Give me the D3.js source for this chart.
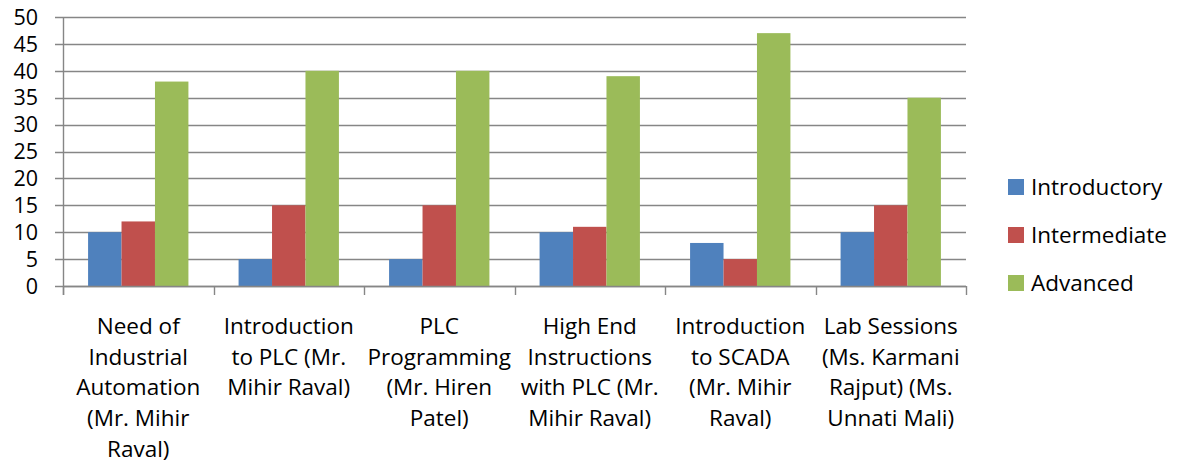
<!DOCTYPE html>
<html>
<head>
<meta charset="utf-8">
<script src="https://cdn.jsdelivr.net/npm/d3@7"></script>
<style>
  body { margin: 0; background: #fff; }
  text { font-family: "Open Sans", sans-serif; fill: #000; }
</style>
</head>
<body>
<svg id="chart" width="1179" height="465"></svg>
<script>
const categories = [
  "Need of Industrial Automation (Mr. Mihir Raval)",
  "Introduction to PLC (Mr. Mihir Raval)",
  "PLC Programming (Mr. Hiren Patel)",
  "High End Instructions with PLC (Mr. Mihir Raval)",
  "Introduction to SCADA (Mr. Mihir Raval)",
  "Lab Sessions (Ms. Karmani Rajput) (Ms. Unnati Mali)"
];
// wrapped the way the original shows them
const categoryLines = [
  ["Need of", "Industrial", "Automation", "(Mr. Mihir", "Raval)"],
  ["Introduction", "to PLC (Mr.", "Mihir Raval)"],
  ["PLC", "Programming", "(Mr. Hiren", "Patel)"],
  ["High End", "Instructions", "with PLC (Mr.", "Mihir Raval)"],
  ["Introduction", "to SCADA", "(Mr. Mihir", "Raval)"],
  ["Lab Sessions", "(Ms. Karmani", "Rajput) (Ms.", "Unnati Mali)"]
];
const seriesNames = ["Introductory", "Intermediate", "Advanced"];
const introductory = [10, 5, 5, 10, 8, 10];
const intermediate = [12, 15, 15, 11, 5, 15];
const advanced = [38, 40, 40, 39, 47, 35];
const yTicks = [0, 5, 10, 15, 20, 25, 30, 35, 40, 45, 50];
const colors = ["#4F81BD", "#C0504D", "#9BBB59"];

const series = [introductory, intermediate, advanced];

const svg = d3.select("#chart");
const plotLeft = 63, plotRight = 966, plotTop = 17, plotBottom = 286;

const x0 = d3.scaleBand().domain(d3.range(categories.length)).range([plotLeft, plotRight]).paddingInner(1 / 3).paddingOuter(1 / 6);
const x1 = d3.scaleBand().domain(d3.range(series.length)).range([0, x0.bandwidth()]);
const y = d3.scaleLinear().domain([0, 50]).range([plotBottom, plotTop]);

// gridlines
svg.append("g")
  .selectAll("line")
  .data(yTicks)
  .join("line")
  .attr("x1", plotLeft - 8)
  .attr("x2", plotRight)
  .attr("y1", (d) => Math.round(y(d)) + 0.5)
  .attr("y2", (d) => Math.round(y(d)) + 0.5)
  .style("stroke", "#868686")
  .style("stroke-width", 1.4);

// y labels
svg.append("g")
  .selectAll("text")
  .data(yTicks)
  .join("text")
  .attr("x", 38)
  .attr("y", (d) => y(d))
  .attr("dy", "0.36em")
  .style("text-anchor", "end")
  .style("font-size", "21.5px")
  .text((d) => d);

// bars
const groups = svg.append("g")
  .selectAll("g")
  .data(categories)
  .join("g")
  .attr("transform", (_, i) => `translate(${x0(i)},0)`);

groups.selectAll("rect")
  .data((_, i) => series.map((s, k) => ({ k, v: s[i] })))
  .join("rect")
  .attr("x", (d) => x1(d.k))
  .attr("width", x1.bandwidth())
  .attr("y", (d) => y(d.v))
  .attr("height", (d) => y(0) - y(d.v))
  .style("fill", (d) => colors[d.k]);

// axes lines
svg.append("line")
  .attr("x1", plotLeft + 0.5).attr("x2", plotLeft + 0.5)
  .attr("y1", plotTop).attr("y2", plotBottom + 9)
  .style("stroke", "#868686").style("stroke-width", 1.4);
svg.append("line")
  .attr("x1", plotLeft).attr("x2", plotRight)
  .attr("y1", Math.round(y(0)) + 0.5).attr("y2", Math.round(y(0)) + 0.5)
  .style("stroke", "#868686").style("stroke-width", 1.4);

const step = (plotRight - plotLeft) / categories.length;
svg.append("g")
  .selectAll("line")
  .data(d3.range(categories.length + 1))
  .join("line")
  .attr("x1", (i) => Math.round(plotLeft + i * step) + 0.5)
  .attr("x2", (i) => Math.round(plotLeft + i * step) + 0.5)
  .attr("y1", plotBottom)
  .attr("y2", plotBottom + 9)
  .style("stroke", "#868686")
  .style("stroke-width", 1.4);

// category labels
const catLabels = svg.append("g")
  .selectAll("text")
  .data(categoryLines)
  .join("text")
  .attr("x", (_, i) => x0(i) + x0.bandwidth() / 2)
  .attr("y", 326)
  .style("text-anchor", "middle")
  .style("font-size", "22.5px");

catLabels.selectAll("tspan")
  .data((d) => d)
  .join("tspan")
  .attr("x", function () { return this.parentNode.getAttribute("x"); })
  .attr("dy", (_, j) => (j === 0 ? "0.35em" : "30.8px"))
  .text((d) => d);

// legend
const legend = svg.append("g")
  .selectAll("g")
  .data(seriesNames)
  .join("g")
  .attr("transform", (_, i) => `translate(1008,${187 + i * 48})`);

legend.append("rect")
  .attr("x", 0).attr("y", -8)
  .attr("width", 16).attr("height", 16)
  .style("fill", (_, i) => colors[i]);

legend.append("text")
  .attr("x", 23)
  .attr("dy", "0.36em")
  .style("font-size", "22.5px")
  .text((d) => d);
</script>
</body>
</html>
